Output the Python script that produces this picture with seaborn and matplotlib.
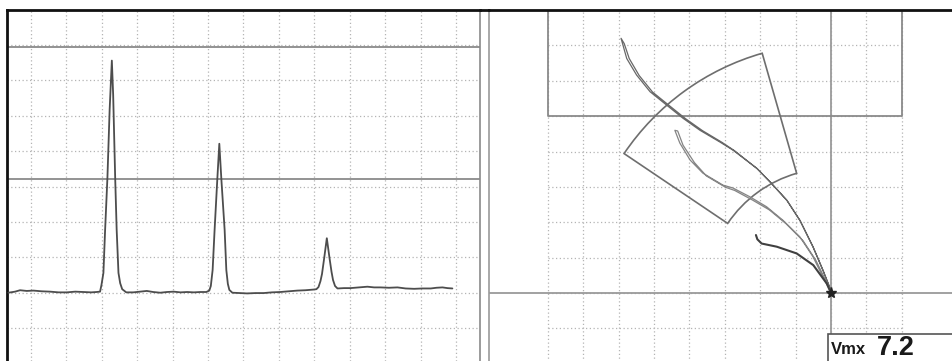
import numpy as np
import pandas as pd
import matplotlib
matplotlib.use("Agg")
import matplotlib.pyplot as plt
from matplotlib.patches import Wedge, Rectangle
from matplotlib.lines import Line2D
import seaborn as sns

# ---- strip chart (vertical channel vs. scan position, in screen divisions) ----
trace_x = [-0.64, -0.45, -0.31, -0.12, 0.07, 0.30, 0.54, 0.78, 1.01, 1.25, 1.48, 1.70,
           1.85, 1.95, 1.99, 2.045, 2.093, 2.158, 2.221, 2.283, 2.320, 2.377, 2.419,
           2.470, 2.518, 2.575, 2.69, 2.89, 3.08, 3.27, 3.45, 3.65, 3.84, 4.03, 4.22,
           4.41, 4.60, 4.78, 4.95, 5.035, 5.078, 5.129, 5.185, 5.262, 5.318, 5.375,
           5.468, 5.516, 5.559, 5.601, 5.686, 5.90, 6.10, 6.34, 6.57, 6.80, 7.04, 7.28,
           7.52, 7.75, 7.99, 8.06, 8.119, 8.175, 8.218, 8.280, 8.354, 8.430, 8.487,
           8.529, 8.586, 8.656, 8.84, 9.02, 9.26, 9.50, 9.69, 9.87, 10.11, 10.35,
           10.58, 10.82, 11.05, 11.29, 11.45, 11.62, 11.76, 11.90]
trace_y = [2.00, 2.03, 2.07, 2.05, 2.06, 2.04, 2.03, 2.01, 2.01, 2.03, 2.02, 2.01,
           2.02, 2.03, 2.22, 2.56, 3.78, 5.25, 7.18, 8.56, 7.60, 5.25, 3.78,
           2.56, 2.27, 2.10, 2.01, 2.01, 2.03, 2.05, 2.02, 2.00, 2.02, 2.03, 2.01,
           2.02, 2.01, 2.02, 2.02, 2.06, 2.19, 2.64, 3.78, 5.22, 6.21, 5.22,
           3.78, 2.64, 2.25, 2.08, 2.00, 1.99, 1.98, 1.99, 1.99, 2.01, 2.02, 2.04,
           2.06, 2.07, 2.09, 2.10, 2.16, 2.33, 2.53, 2.98, 3.54, 2.98, 2.59,
           2.36, 2.19, 2.12, 2.13, 2.13, 2.15, 2.17, 2.15, 2.15, 2.14, 2.15,
           2.12, 2.11, 2.12, 2.12, 2.14, 2.15, 2.13, 2.12]
strip_thresholds = [8.94, 5.22]

# ---- impedance plane (X / Y in divisions, balance point at origin) ----
loop1_x = [0, -0.03, -0.23, -0.51, -0.88, -1.25, -1.72, -2.10, -2.77, -3.14, -3.70,
           -4.18, -4.64, -5.11, -5.49, -5.77, -5.93,
           -5.84, -5.70, -5.42, -5.04, -4.57, -4.11, -3.63, -3.08, -2.72, -2.08,
           -1.70, -1.24, -0.87, -0.50, -0.22, -0.02, 0]
loop1_y = [0, 0.14, 0.65, 1.31, 2.06, 2.63, 3.14, 3.53, 4.04, 4.27, 4.60,
           4.94, 5.31, 5.69, 6.16, 6.63, 7.20,
           7.05, 6.63, 6.15, 5.68, 5.30, 4.93, 4.59, 4.26, 4.02, 3.51,
           3.12, 2.61, 2.04, 1.29, 0.63, 0.12, 0]
loop2_x = [0, -0.03, -0.23, -0.51, -0.88, -1.36, -1.82, -2.29, -2.77, -3.05, -3.62,
           -3.98, -4.27, -4.41,
           -4.33, -4.18, -3.86, -3.52, -2.98, -2.72, -2.22, -1.74, -1.27, -0.79,
           -0.43, -0.17, -0.02, 0]
loop2_y = [0, 0.08, 0.46, 1.03, 1.59, 2.06, 2.44, 2.72, 2.97, 3.05, 3.39,
           3.76, 4.24, 4.60,
           4.58, 4.18, 3.69, 3.31, 2.99, 2.90, 2.63, 2.35, 1.96, 1.48,
           0.93, 0.40, 0.07, 0]
loop3_x = [0, -0.12, -0.50, -0.97, -1.53, -1.96, -2.08, -2.12]
loop3_y = [0, 0.27, 0.79, 1.12, 1.31, 1.40, 1.52, 1.64]

alarm_box = (-8.0, 5.0, 2.0, 8.0)          # x0, y0, x1, y1
alarm_sector = (3.52, 7.05, 106.0, 146.0)   # r_in, r_out, angle_start, angle_end
vmax_label = "Vmx"
vmax_value = 7.2

sns.set_style("white")
plt.rcParams["font.family"] = ["Liberation Sans", "DejaVu Sans"]

W, H = 952, 361
fig = plt.figure(figsize=(W / 100, H / 100), dpi=100)
fig.patch.set_facecolor("white")

axL = fig.add_axes([7 / W, 0, 473 / W, 351 / H])
axR = fig.add_axes([489 / W, 0, 463 / W, 351 / H])

grid_kw = dict(color="#b4b4b4", lw=0.9, linestyle=(0, (1, 2)), zorder=1)

# ---------------- strip chart ----------------
axL.set_xlim(-0.678, 12.68)
axL.set_ylim(0.07, 9.99)
for gx in range(0, 13):
    axL.axvline(gx, **grid_kw)
for gy in range(1, 10):
    axL.axhline(gy, **grid_kw)
for ty in strip_thresholds:
    axL.axhline(ty, color="#8a8a8a", lw=1.3, zorder=2)

strip = pd.DataFrame({"pos": trace_x, "amp": trace_y})
sns.lineplot(data=strip, x="pos", y="amp", ax=axL, sort=False, estimator=None,
             color="#4d4d4d", lw=1.3, zorder=3)

# ---------------- impedance plane ----------------
axR.set_xlim(-9.66, 3.418)
axR.set_ylim(-1.92, 8.0)
for gx in range(-8, 3):
    axR.vlines(gx, -2, 8, **grid_kw)
for gy in range(-2, 9):
    axR.hlines(gy, -8, 2, **grid_kw)
axR.axhline(0, color="#9a9a9a", lw=1.3, zorder=2)
axR.axvline(0, color="#9a9a9a", lw=1.3, zorder=2)

bx0, by0, bx1, by1 = alarm_box
axR.plot([bx0, bx0, bx1, bx1], [by1, by0, by0, by1], color="#8a8a8a", lw=1.3, zorder=2)

r_in, r_out, a0, a1 = alarm_sector
axR.add_patch(Wedge((0, 0), r_out, a0, a1, width=r_out - r_in, fill=False,
                    edgecolor="#6e6e6e", lw=1.2, zorder=2))

sns.lineplot(x=loop1_x, y=loop1_y, ax=axR, sort=False, estimator=None,
             color="#686868", lw=0.9, zorder=3)
sns.lineplot(x=loop2_x, y=loop2_y, ax=axR, sort=False, estimator=None,
             color="#858585", lw=0.9, zorder=3)
sns.lineplot(x=loop3_x, y=loop3_y, ax=axR, sort=False, estimator=None,
             color="#404040", lw=1.5, zorder=3)
axR.plot([0], [0], marker="*", ms=8, color="#222222", zorder=4)

# readout box
axR.add_patch(Rectangle((-0.076, -3.0), 5.0, 3.0 - 1.167, facecolor="white",
                        edgecolor="#555555", lw=1.2, zorder=5))
axR.text(0.0, -1.59, vmax_label, fontsize=12, fontweight="bold",
         family=["Liberation Sans Narrow", "Liberation Sans", "DejaVu Sans"],
         ha="left", va="center", color="#1a1a1a", zorder=6)
axR.text(1.29, -1.91, f"{vmax_value:.1f}", fontsize=19.5, fontweight="bold",
         ha="left", va="bottom", color="#1a1a1a", zorder=6)

for ax in (axL, axR):
    ax.set_xticks([])
    ax.set_yticks([])
    ax.set_xlabel("")
    ax.set_ylabel("")
    ax.set_facecolor("white")
    if ax.get_legend() is not None:
        ax.get_legend().remove()

for name, sp in axL.spines.items():
    sp.set_visible(name in ("left", "top", "right"))
axL.spines["left"].set_color("#111111")
axL.spines["left"].set_linewidth(2.0)
axL.spines["top"].set_color("#111111")
axL.spines["top"].set_linewidth(2.0)
axL.spines["right"].set_color("#8a8a8a")
axL.spines["right"].set_linewidth(1.2)

for name, sp in axR.spines.items():
    sp.set_visible(name in ("left", "top"))
axR.spines["left"].set_color("#9a9a9a")
axR.spines["left"].set_linewidth(1.2)
axR.spines["top"].set_color("#111111")
axR.spines["top"].set_linewidth(2.0)

# continuous top frame edge across the gap between the two screens
fig.add_artist(Line2D([480 / W, 489 / W], [351 / H, 351 / H], color="#111111",
                      lw=2.0, transform=fig.transFigure))

fig.savefig("out.png", dpi=100, facecolor="white")
